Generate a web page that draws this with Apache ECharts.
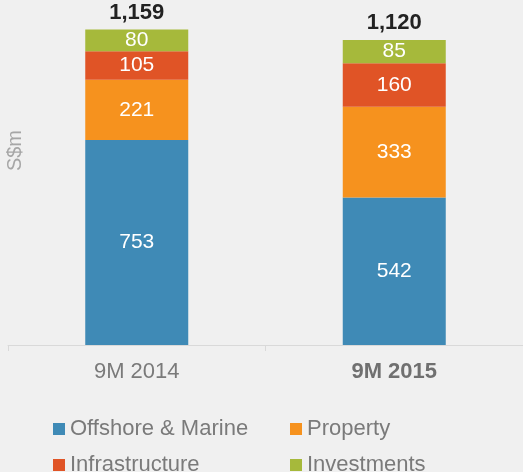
<!DOCTYPE html>
<html><head><meta charset="utf-8">
<script src="https://cdn.jsdelivr.net/npm/echarts@6/dist/echarts.min.js"></script>
<style>html,body{margin:0;padding:0;background:#f0f0f0;}#c{width:523px;height:472px;}</style>
</head><body><div id="c"></div>
<script>
const categories = ['9M 2014', '9M 2015'];
const offshoreMarine = [753, 542];
const property = [221, 333];
const infrastructure = [105, 160];
const investments = [80, 85];
const totals = [1159, 1120];
const yAxisName = 'S$m';

const FONT = '"Liberation Sans", Arial, sans-serif';
const chart = echarts.init(document.getElementById('c'));
const segLabel = {show: true, position: 'inside', color: '#fff', fontSize: 21, fontFamily: FONT};
function fmt(n){return n.toLocaleString('en-US');}
const legendText = {fontSize: 22, color: '#7a7a7a', fontFamily: FONT, lineHeight: 20};
const option = {
  backgroundColor: '#f0f0f0',
  animation: false,
  textStyle: {fontFamily: FONT},
  grid: {left: 8, right: 0, top: 18.3, bottom: 127},
  graphic: [{
    type: 'text', left: 5, top: 130, rotation: Math.PI/2,
    style: {text: yAxisName, fill: '#a6a6a6', font: '20px ' + FONT}
  }],
  legend: [
    {data: ['Offshore & Marine', 'Infrastructure'], orient: 'vertical', left: 53, top: 418, height: 60,
     itemWidth: 12, itemHeight: 12, itemGap: 14, icon: 'rect', textStyle: legendText, padding: 0},
    {data: ['Property', 'Investments'], orient: 'vertical', left: 290, top: 418, height: 60,
     itemWidth: 12, itemHeight: 12, itemGap: 14, icon: 'rect', textStyle: legendText, padding: 0}
  ],
  xAxis: {
    type: 'category', data: categories,
    axisLine: {lineStyle: {color: '#d9d9d9', width: 1}},
    axisTick: {show: true, length: 6, lineStyle: {color: '#d9d9d9'}},
    axisLabel: {
      margin: 16, fontSize: 22, color: '#7a7a7a', fontFamily: FONT,
      formatter: function(v, i){ return i === 1 ? '{b|' + v + '}' : v; },
      rich: {b: {fontSize: 22, fontWeight: 'bold', color: '#707070', fontFamily: FONT}}
    }
  },
  yAxis: {type: 'value', min: 0, max: 1200, show: false, splitLine: {show: false}},
  series: [
    {name: 'Offshore & Marine', type: 'bar', stack: 's', data: offshoreMarine, barWidth: '40%',
     itemStyle: {color: '#3f8ab6'}, label: segLabel},
    {name: 'Property', type: 'bar', stack: 's', data: property,
     itemStyle: {color: '#f6921e'}, label: segLabel},
    {name: 'Infrastructure', type: 'bar', stack: 's', data: infrastructure,
     itemStyle: {color: '#e05426'}, label: segLabel},
    {name: 'Investments', type: 'bar', stack: 's', data: investments,
     itemStyle: {color: '#a6b93b'}, label: segLabel},
    {name: 'total', type: 'bar', stack: 's', data: totals.map(()=>0),
     itemStyle: {color: 'transparent'}, legendHoverLink: false,
     label: {show: true, position: 'top', distance: 6, color: '#222', fontSize: 22, fontWeight: 'bold', fontFamily: FONT,
       formatter: function(p){ return fmt(totals[p.dataIndex]); }}}
  ]
};
chart.setOption(option);
</script></body></html>
